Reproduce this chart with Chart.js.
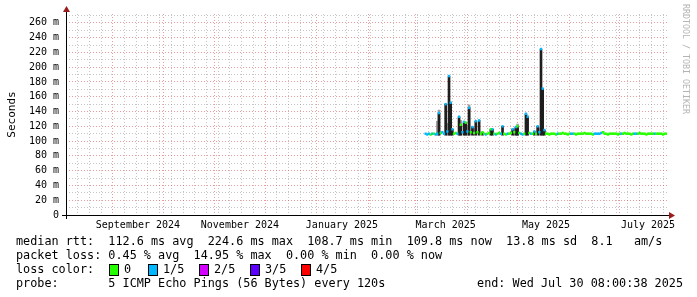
<!DOCTYPE html>
<html>
<head>
<meta charset="utf-8">
<script src="https://cdn.jsdelivr.net/npm/chart.js@4/dist/chart.umd.min.js"></script>
<style>
    body { margin: 0; background: #fff; }
    #wrap { position: relative; width: 697px; height: 297px; font-family: 'DejaVu Sans Mono', monospace; color: #000; }
    #wrap canvas { position: absolute; left: 0; top: 0; }
    .txt { position: absolute; white-space: pre; font-size: 11.8px; line-height: 14px; }
    .sq { position: absolute; width: 8px; height: 10px; border: 1px solid #000; }
    #mark { position: absolute; left: 681px; top: 4px; font-size: 8.3px; color: #b4b4b4; writing-mode: vertical-rl; }
</style>
</head>
<body>
<div id="wrap">
    <canvas id="pingChart" width="697" height="297"></canvas>
    <div id="mark">RRDTOOL / TOBI OETIKER</div>
    <div class="txt" style="left:16px; top:234px;">median rtt:  112.6 ms avg  224.6 ms max  108.7 ms min  109.8 ms now  13.8 ms sd  8.1   am/s</div>
    <div class="txt" style="left:16px; top:248px;">packet loss: 0.45 % avg  14.95 % max  0.00 % min  0.00 % now</div>
    <div class="txt" style="left:16px; top:262px;">loss color:</div>
    <div id="lossLegend"></div>
    <div class="txt" style="left:16px; top:276px;">probe:       5 ICMP Echo Pings (56 Bytes) every 120s</div>
    <div class="txt" style="right:14px; top:276px;">end: Wed Jul 30 08:00:38 2025</div>
</div>
<script>
// x axis is in days since Sun Aug 4 2024 00:00
var xMax = 359.33;
var monthStartDays = [28, 58, 89, 119, 150, 181, 209, 240, 270, 301, 331];
var monthLabelDays = [43, 104, 165, 227, 287, 348];
var monthLabels = ['September 2024', 'November 2024', 'January 2025', 'March 2025', 'May 2025', 'July 2025'];
var yTickValues = [0, 10, 20, 30, 40, 50, 60, 70, 80, 90, 100, 110, 120, 130, 140, 150, 160, 170, 180, 190, 200, 210, 220, 230, 240, 250, 260, 270];

// median rtt per day (ms), first sample at day 215
var medianStartDay = 215;
var medianRtt = [
    110, 109, 110, 109, 110, 110, 109, 110, 138, 111,
    112, 110, 150, 113, 188, 152, 116, 110, 111, 110,
    133, 122, 112, 126, 125, 113, 145, 112, 119, 111,
    127, 112, 128, 110, 112, 110, 109, 110, 111, 116,
    116, 110, 109, 110, 111, 110, 120, 110, 109, 110,
    110, 111, 116, 112, 119, 120, 111, 110, 109, 110,
    137, 133, 111, 110, 110, 113, 110, 120, 112, 224.6,
    171, 115, 110, 110, 109, 110, 110, 110, 109, 110,
    110, 110, 111, 110, 110, 109, 110, 110, 110, 110,
    109, 110, 110, 110, 110, 111, 110, 110, 110, 110,
    109, 110, 110, 110, 110, 111, 112, 110, 110, 109,
    110, 110, 110, 110, 110, 109, 110, 110, 110, 111,
    110, 110, 110, 109, 110, 110, 110, 110, 111, 110,
    110, 110, 109, 110, 110, 110, 110, 110, 110, 110,
    110, 110, 109, 110, 110
];
// lost pings out of 5 per day
var lossCount = [
    1, 1, 1, 0, 1, 0, 1, 1, 1, 0,
    1, 1, 1, 1, 1, 1, 1, 0, 0, 1,
    1, 0, 1, 1, 0, 1, 1, 0, 1, 0,
    1, 0, 1, 0, 0, 0, 1, 0, 0, 0,
    1, 0, 1, 0, 0, 1, 1, 0, 0, 1,
    0, 0, 1, 0, 1, 0, 0, 1, 1, 0,
    1, 1, 0, 1, 0, 1, 0, 1, 1, 1,
    1, 1, 0, 0, 0, 0, 0, 0, 0, 1,
    0, 0, 0, 0, 0, 0, 0, 1, 1, 0,
    0, 0, 0, 0, 0, 0, 0, 0, 0, 0,
    0, 1, 1, 1, 1, 1, 0, 0, 0, 0,
    0, 0, 0, 0, 0, 0, 0, 1, 0, 0,
    0, 0, 0, 0, 0, 1, 1, 0, 0, 0,
    0, 0, 0, 0, 0, 0, 0, 1, 0, 0,
    0, 0, 0, 0, 0
];

// dark smoke spikes: day, low and high rtt (ms)
var smokeDays = [223, 227, 229, 230, 231, 235, 236, 238, 239, 241, 243, 245, 247, 249, 254, 255, 261, 267, 269, 270, 275, 276, 280, 282, 284, 285, 286];
var smokeLow  = [108, 108, 108, 108, 108, 108, 108, 108, 108, 108, 108, 108, 108, 108, 108, 108, 108, 108, 108, 108, 108, 108, 108, 108, 108, 108, 108];
var smokeHigh = [138, 150, 188, 152, 116, 133, 122, 126, 125, 145, 119, 127, 128, 112, 116, 116, 120, 116, 119, 120, 137, 133, 113, 120, 224.6, 171, 115];

// light smoke (outer pings)
var haloDays = [222, 223, 228, 236, 240, 241, 244, 268, 270, 283];
var haloLow  = [108, 108, 108, 108, 108, 108, 108, 108, 108, 108];
var haloHigh = [127, 142, 124, 128, 121, 149, 117, 117, 123, 118];

var lossColors = ['#26ff00', '#00b8ff', '#d400ff', '#5e00ff', '#ff0000'];
var lossNames = ['0', '1/5', '2/5', '3/5', '4/5'];

function buildLossLegend() {
    var box = document.getElementById('lossLegend');
    var sqX = [109, 148, 199, 250, 301];
    var html = '';
    for (var i = 0; i < lossNames.length; i++) {
        html += '<div class="sq" style="left:' + sqX[i] + 'px; top:264px; background:' + lossColors[i] + ';"></div>';
        html += '<div class="txt" style="left:' + (sqX[i] + 15) + 'px; top:262px;">' + lossNames[i] + '</div>';
    }
    box.innerHTML = html;
}

function toBars(days, low, high) {
    var out = [];
    for (var j = 0; j < days.length; j++) {
        out.push({ x: days[j], y: [low[j], high[j]] });
    }
    return out;
}

function drawChart() {
    var medianPoints = [];
    var pointColors = [];
    for (var i = 0; i < medianRtt.length; i++) {
        medianPoints.push({ x: medianStartDay + i, y: medianRtt[i] });
        pointColors.push(lossColors[lossCount[i]]);
    }

    var weekDays = [];
    for (var d = 7; d < xMax; d += 7) weekDays.push(d);

    var axesPlugin = {
        id: 'rrdAxes',
        afterDraw: function (chart) {
            var ctx = chart.ctx;
            var a = chart.chartArea;
            ctx.save();
            ctx.strokeStyle = '#000';
            ctx.lineWidth = 1;
            ctx.beginPath();
            ctx.moveTo(62, Math.round(a.bottom) + 0.5);
            ctx.lineTo(a.right + 3, Math.round(a.bottom) + 0.5);
            ctx.moveTo(Math.round(a.left) + 0.5, a.top - 4);
            ctx.lineTo(Math.round(a.left) + 0.5, a.bottom + 4);
            ctx.stroke();
            ctx.fillStyle = '#9b1b1b';
            ctx.beginPath();
            ctx.moveTo(a.left - 3, a.top - 2);
            ctx.lineTo(a.left + 4, a.top - 2);
            ctx.lineTo(a.left + 0.5, a.top - 8);
            ctx.closePath();
            ctx.fill();
            ctx.beginPath();
            ctx.moveTo(a.right + 2, a.bottom - 3);
            ctx.lineTo(a.right + 2, a.bottom + 4);
            ctx.lineTo(a.right + 8, a.bottom + 0.5);
            ctx.closePath();
            ctx.fill();
            ctx.restore();
        }
    };

    var ctx = document.getElementById('pingChart').getContext('2d');
    new Chart(ctx, {
        data: {
            datasets: [{
                type: 'scatter',
                label: 'median rtt',
                data: medianPoints,
                showLine: false,
                pointStyle: 'line',
                pointRadius: 1.1,
                pointBorderWidth: 2.5,
                pointBorderColor: pointColors,
                pointBackgroundColor: pointColors,
                order: 0
            }, {
                type: 'bar',
                label: 'smoke',
                data: toBars(smokeDays, smokeLow, smokeHigh),
                backgroundColor: '#1e1e1e',
                barThickness: 2,
                grouped: false,
                order: 1
            }, {
                type: 'bar',
                label: 'smoke halo',
                data: toBars(haloDays, haloLow, haloHigh),
                backgroundColor: '#a0a0a0',
                barThickness: 2,
                grouped: false,
                order: 2
            }]
        },
        options: {
            responsive: false,
            animation: false,
            layout: { padding: { top: 14, right: 30, bottom: 62, left: 0 } },
            plugins: {
                legend: { display: false },
                tooltip: { enabled: false }
            },
            scales: {
                x: {
                    type: 'linear',
                    min: 0,
                    max: xMax,
                    offset: false,
                    afterBuildTicks: function (axis) {
                        var vals = weekDays.concat(monthStartDays, monthLabelDays);
                        vals = vals.filter(function (v, k) { return vals.indexOf(v) === k; });
                        vals.sort(function (p, q) { return p - q; });
                        axis.ticks = vals.map(function (v) { return { value: v }; });
                    },
                    afterFit: function (axis) { axis.height = 20; },
                    grid: {
                        drawTicks: false,
                        offset: false,
                        color: function (c) {
                            var v = c.tick ? c.tick.value : -1;
                            if (monthStartDays.indexOf(v) >= 0) return 'rgba(215, 60, 60, 0.5)';
                            if (weekDays.indexOf(v) >= 0) return 'rgba(140, 140, 140, 0.5)';
                            return 'rgba(0, 0, 0, 0)';
                        }
                    },
                    border: { display: false, dash: [1, 2] },
                    ticks: {
                        autoSkip: false,
                        maxRotation: 0,
                        padding: 4,
                        color: '#000',
                        font: { family: 'DejaVu Sans Mono', size: 10 },
                        callback: function (value) {
                            var k = monthLabelDays.indexOf(value);
                            return k >= 0 ? monthLabels[k] : '';
                        }
                    }
                },
                y: {
                    min: 0,
                    max: 272,
                    afterBuildTicks: function (axis) {
                        axis.ticks = yTickValues.map(function (v) { return { value: v }; });
                    },
                    afterFit: function (axis) { axis.width = 66; },
                    grid: {
                        drawTicks: false,
                        color: function (c) {
                            var v = c.tick ? c.tick.value : -1;
                            if (v === 0) return 'rgba(0, 0, 0, 0)';
                            return v % 20 === 0 ? 'rgba(215, 60, 60, 0.5)' : 'rgba(140, 140, 140, 0.5)';
                        }
                    },
                    border: { display: false, dash: [1, 2] },
                    title: {
                        display: true,
                        text: 'Seconds',
                        color: '#000',
                        font: { family: 'DejaVu Sans Mono', size: 11 },
                        padding: { top: 6, bottom: 0 }
                    },
                    ticks: {
                        autoSkip: false,
                        padding: 7,
                        color: '#000',
                        font: { family: 'DejaVu Sans Mono', size: 10 },
                        callback: function (value) {
                            if (value % 20 !== 0) return '';
                            return value === 0 ? '0' : value + ' m';
                        }
                    }
                }
            }
        },
        plugins: [axesPlugin]
    });
}

buildLossLegend();
drawChart();
</script>
</body>
</html>
